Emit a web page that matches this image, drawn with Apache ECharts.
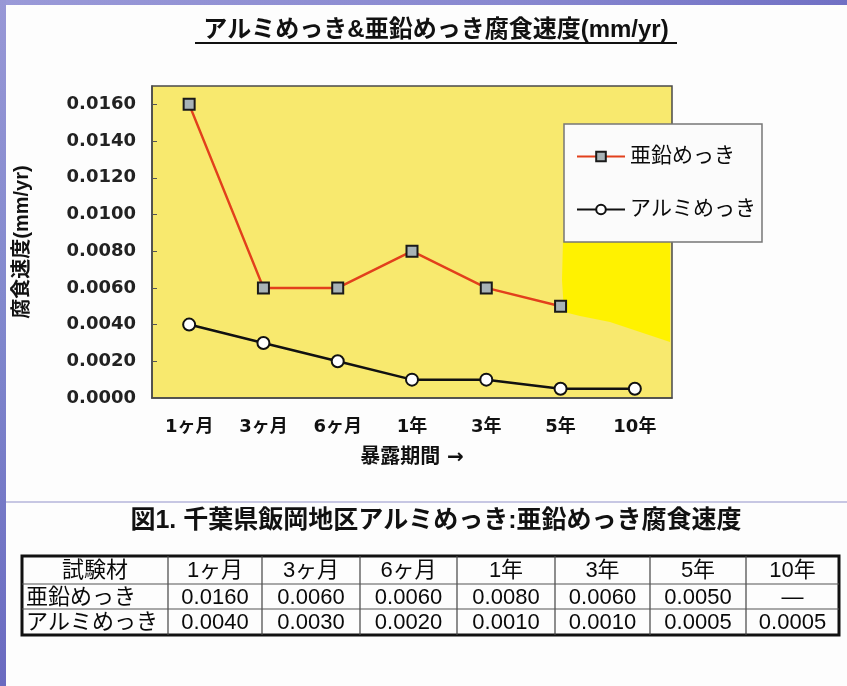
<!DOCTYPE html>
<html>
<head>
<meta charset="utf-8">
<script src="https://cdn.jsdelivr.net/npm/echarts@6/dist/echarts.min.js"></script>
<style>
  html, body { margin: 0; padding: 0; background: #fdfdfd; }
  #main { width: 847px; height: 686px; }
</style>
</head>
<body>
<div id="main"></div>
<script>
// 暴露期間
var periods = ["1ヶ月", "3ヶ月", "6ヶ月", "1年", "3年", "5年", "10年"];
// 腐食速度 (mm/yr)
var zinc = [0.016, 0.006, 0.006, 0.008, 0.006, 0.005, null];
var alum = [0.004, 0.003, 0.002, 0.001, 0.001, 0.0005, 0.0005];
var zincName = "亜鉛めっき";
var alumName = "アルミめっき";

var FONT = "'DejaVu Sans', 'Noto Sans CJK JP', sans-serif";
var FONT2 = "'Liberation Sans', 'Noto Sans CJK JP', sans-serif";

var myChart = echarts.init(document.getElementById("main"));

// 下の表 (graphicで描く)
var cols = [22, 168, 262, 360, 457, 555, 650, 746, 839];
var rows = [556, 584, 609, 635];
var table = [];
table.push({
  type: "rect", z: 5,
  shape: { x: cols[0], y: rows[0], width: cols[8] - cols[0], height: rows[3] - rows[0] },
  style: { fill: "#fdfdfd", stroke: "#111", lineWidth: 3 }
});
for (var i = 1; i < cols.length - 1; i++) {
  table.push({
    type: "line", z: 6,
    shape: { x1: cols[i], y1: rows[0], x2: cols[i], y2: rows[3] },
    style: { stroke: "#444", lineWidth: 1.2 }
  });
}
for (var j = 1; j < rows.length - 1; j++) {
  table.push({
    type: "line", z: 6,
    shape: { x1: cols[0], y1: rows[j], x2: cols[8], y2: rows[j] },
    style: { stroke: "#555", lineWidth: 1.2 }
  });
}
function cell(text, col, row, align) {
  var x = align == "left" ? cols[col] + 4 : (cols[col] + cols[col + 1]) / 2;
  table.push({
    type: "text", z: 7,
    x: x, y: (rows[row] + rows[row + 1]) / 2 + 1,
    style: {
      text: text, align: align || "center", verticalAlign: "middle",
      font: "22px " + FONT2, fill: "#0a0a0a"
    }
  });
}
cell("試験材", 0, 0);
periods.forEach(function (p, k) { cell(p, k + 1, 0); });
cell(zincName, 0, 1, "left");
zinc.forEach(function (v, k) { cell(v == null ? "—" : v.toFixed(4), k + 1, 1); });
cell(alumName, 0, 2, "left");
alum.forEach(function (v, k) { cell(v == null ? "—" : v.toFixed(4), k + 1, 2); });

var option = {
  backgroundColor: "#fdfdfd",
  animation: false,
  grid: {
    left: 152, top: 86, right: 175, bottom: 288,
    show: true,
    backgroundColor: "#f8e96e",
    borderColor: "#4a4a4a",
    borderWidth: 1.5
  },
  legend: {
    orient: "vertical",
    left: 564, top: 124,
    padding: [22, 6, 22, 12],
    itemGap: 32,
    itemWidth: 48,
    itemHeight: 12,
    backgroundColor: "#fbfbfb",
    borderColor: "#777",
    borderWidth: 1.5,
    textStyle: { fontSize: 21, color: "#0a0a0a", fontFamily: FONT },
    data: [zincName, alumName]
  },
  xAxis: {
    type: "category",
    data: periods,
    boundaryGap: true,
    name: "暴露期間 →",
    nameLocation: "middle",
    nameGap: 50,
    nameTextStyle: { fontSize: 20, fontWeight: "bold", color: "#111", fontFamily: FONT },
    axisLine: { lineStyle: { color: "#4a4a4a", width: 1.5 } },
    axisTick: { inside: true, length: 5, lineStyle: { color: "#555" } },
    axisLabel: { margin: 20, fontSize: 18, fontWeight: "bold", color: "#111", fontFamily: FONT }
  },
  yAxis: {
    type: "value",
    min: 0, max: 0.017, interval: 0.002,
    name: "腐食速度(mm/yr)",
    nameLocation: "middle",
    nameRotate: 90,
    nameGap: 120,
    nameTextStyle: { fontSize: 20, fontWeight: "bold", color: "#111", fontFamily: FONT2 },
    splitLine: { show: false },
    axisLine: { show: true, lineStyle: { color: "#4a4a4a", width: 1.5 } },
    axisTick: { show: true, inside: true, length: 5, lineStyle: { color: "#555" } },
    axisLabel: {
      margin: 16, fontSize: 18, fontWeight: "bold", color: "#222", fontFamily: FONT,
      showMaxLabel: false,
      formatter: function (v) { return v.toFixed(4); }
    }
  },
  graphic: [
    // 背景の青い帯
    { type: "rect", z: -1, shape: { x: 0, y: 0, width: 847, height: 5 },
      style: { fill: new echarts.graphic.LinearGradient(0, 0, 1, 0, [
        { offset: 0, color: "#9a9ad8" }, { offset: 0.6, color: "#8888d0" }, { offset: 1, color: "#7070c4" }]) } },
    { type: "rect", z: -1, shape: { x: 0, y: 0, width: 6, height: 686 },
      style: { fill: new echarts.graphic.LinearGradient(0, 0, 0, 1, [
        { offset: 0, color: "#9898d6" }, { offset: 0.5, color: "#7f86cc" }, { offset: 1, color: "#6a6ac0" }]) } },
    { type: "line", z: -1, shape: { x1: 6, y1: 502, x2: 847, y2: 502 },
      style: { stroke: "#b4b4da", lineWidth: 1.5 } },
    // スキャンの明るい黄色の部分
    { type: "polygon", z: 1, silent: true,
      shape: { points: [[563, 240], [670, 240], [670, 342], [640, 332], [610, 322], [580, 316], [564, 312], [562, 280]] },
      style: { fill: "#fff200" } },
    // タイトル
    { type: "text", x: 436, y: 30,
      style: { text: "アルミめっき&亜鉛めっき腐食速度(mm/yr)", align: "center", verticalAlign: "middle",
        font: "bold 24px " + FONT2, fill: "#111" } },
    { type: "line", shape: { x1: 195, y1: 43, x2: 677, y2: 43 }, style: { stroke: "#111", lineWidth: 2 } },
    // 図の説明
    { type: "text", x: 436, y: 521,
      style: { text: "図1. 千葉県飯岡地区アルミめっき:亜鉛めっき腐食速度", align: "center", verticalAlign: "middle",
        font: "bold 25px " + FONT2, fill: "#111" } }
  ].concat(table),
  series: [
    {
      name: zincName,
      type: "line",
      data: zinc,
      symbol: "rect",
      symbolSize: 11,
      lineStyle: { color: "#e2401c", width: 2.5 },
      itemStyle: { color: "#a8b3b6", borderColor: "#1a1a1a", borderWidth: 2 }
    },
    {
      name: alumName,
      type: "line",
      data: alum,
      symbol: "circle",
      symbolSize: 12,
      lineStyle: { color: "#111", width: 2.5 },
      itemStyle: { color: "#fff", borderColor: "#111", borderWidth: 2 }
    }
  ]
};
myChart.setOption(option);
</script>
</body>
</html>
